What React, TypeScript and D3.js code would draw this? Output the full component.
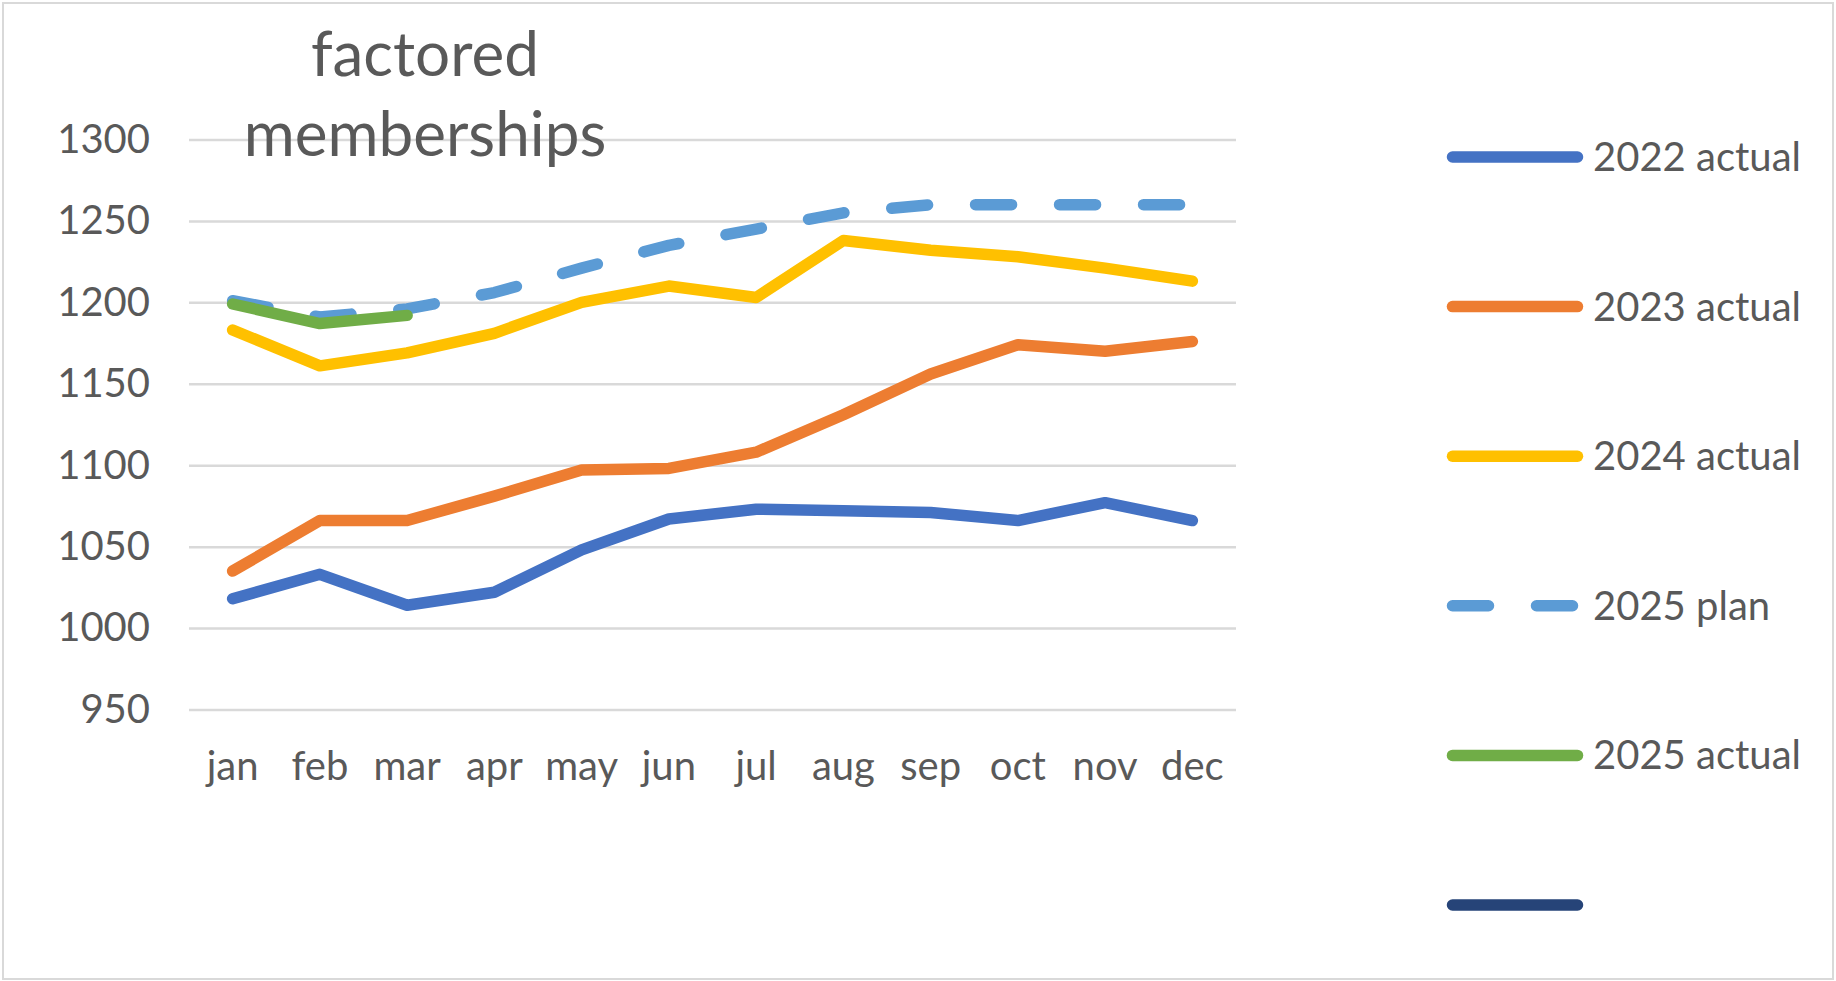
import React, { useEffect, useRef } from "react";
import { select, scaleLinear, scaleBand, line, axisLeft, axisBottom, format } from "d3";

const months = ["jan", "feb", "mar", "apr", "may", "jun", "jul", "aug", "sep", "oct", "nov", "dec"];
const yTicks = [950, 1000, 1050, 1100, 1150, 1200, 1250, 1300];

const actual2022 = [1018, 1033, 1014, 1022, 1048, 1067, 1073, 1072, 1071, 1066, 1077, 1066];
const actual2023 = [1035, 1066, 1066, 1081, 1097, 1098, 1108, 1131, 1156, 1174, 1170, 1176];
const actual2024 = [1183, 1161, 1169, 1181, 1200, 1210, 1203, 1238, 1232, 1228, 1221, 1213];
const plan2025 = [1201, 1191, 1196, 1206, 1221, 1235, 1245, 1255, 1260, 1260, 1260, 1260];
const actual2025 = [1199, 1187, 1192];
const blankSeries: number[] = [];

const series = [
  { name: "2022 actual", values: actual2022, color: "#4472C4", dashed: false },
  { name: "2023 actual", values: actual2023, color: "#ED7D31", dashed: false },
  { name: "2024 actual", values: actual2024, color: "#FFC000", dashed: false },
  { name: "2025 plan", values: plan2025, color: "#5B9BD5", dashed: true },
  { name: "2025 actual", values: actual2025, color: "#70AD47", dashed: false },
  { name: "", values: blankSeries, color: "#264478", dashed: false },
];

const titleLines = ["factored", "memberships"];

export default function App() {
  const ref = useRef<SVGSVGElement>(null);

  useEffect(() => {
    const W = 1836;
    const H = 981;
    const margin = { left: 189, right: 600, top: 139.5, bottom: 271.5 };
    const plotW = W - margin.left - margin.right;
    const plotH = H - margin.top - margin.bottom;
    const font = "Lato, 'Open Sans', sans-serif";
    const textColor = "#595959";
    const lw = 11.5;

    const svg = select(ref.current);
    svg.selectAll("*").remove();

    svg.append("rect")
      .attr("x", 3).attr("y", 3)
      .attr("width", W - 6).attr("height", H - 5)
      .attr("fill", "#fff").attr("stroke", "#d9d9d9").attr("stroke-width", 2);

    const g = svg.append("g").attr("transform", `translate(${margin.left},${margin.top})`);

    const xScale = scaleBand<string>().domain(months).range([0, plotW]);
    const yScale = scaleLinear().domain([950, 1300]).range([plotH, 0]);

    // gridlines + y labels
    const yAxis = axisLeft(yScale).tickValues(yTicks).tickFormat(format("d")).tickSize(-plotW).tickPadding(39);
    const yg = g.append("g").call(yAxis);
    yg.select(".domain").remove();
    yg.selectAll(".tick line").attr("stroke", "#d9d9d9").attr("stroke-width", 2.5);
    yg.selectAll(".tick text")
      .attr("font-family", font).attr("font-size", 40).attr("fill", textColor).attr("dy", "0.32em");

    const xAxis = axisBottom(xScale).tickSize(0);
    const xg = g.append("g").attr("transform", `translate(0,${plotH})`).call(xAxis);
    xg.select(".domain").remove();
    xg.selectAll(".tick text")
      .attr("font-family", font).attr("font-size", 40).attr("fill", textColor)
      .attr("y", 70.5).attr("dy", "0");

    const lineGen = line<number>()
      .x((d, i) => (xScale(months[i]) as number) + xScale.bandwidth() / 2)
      .y(d => yScale(d));

    series.forEach(s => {
      if (!s.values.length) return;
      g.append("path")
        .attr("d", lineGen(s.values))
        .attr("fill", "none")
        .attr("stroke", s.color)
        .attr("stroke-width", lw)
        .attr("stroke-linecap", "round")
        .attr("stroke-linejoin", "round")
        .attr("stroke-dasharray", s.dashed ? "36,48" : null);
    });

    // title
    const title = svg.append("text")
      .attr("text-anchor", "middle")
      .attr("font-family", font).attr("font-size", 62).attr("fill", textColor);
    titleLines.forEach((t, i) => {
      title.append("tspan").attr("x", 425).attr("y", 76 + i * 80).text(t);
    });

    // legend
    const legend = svg.append("g");
    series.forEach((s, i) => {
      const ly = 157 + i * 149.6;
      legend.append("line")
        .attr("x1", 1452.5).attr("x2", 1577.5)
        .attr("y1", ly).attr("y2", ly)
        .attr("stroke", s.color).attr("stroke-width", lw)
        .attr("stroke-linecap", "round")
        .attr("stroke-dasharray", s.dashed ? "36,48" : null);
      legend.append("text")
        .attr("x", 1593).attr("y", ly).attr("dy", "0.35em")
        .attr("font-family", font).attr("font-size", 40).attr("fill", textColor)
        .text(s.name);
    });
  }, []);

  return (
    <svg
      ref={ref}
      width={1836}
      height={981}
      style={{ position: "absolute", left: 0, top: 0, background: "#fff" }}
    />
  );
}
